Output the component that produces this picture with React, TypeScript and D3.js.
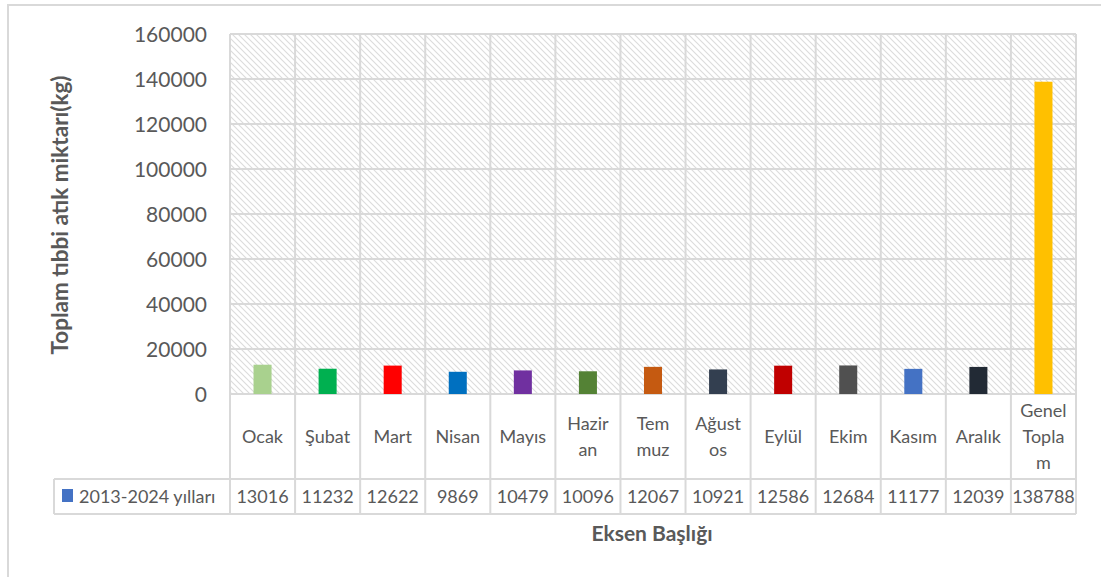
import React from "react";
import * as d3 from "d3";

const categories = ["Ocak", "Şubat", "Mart", "Nisan", "Mayıs", "Haziran", "Temmuz", "Ağustos", "Eylül", "Ekim", "Kasım", "Aralık", "Genel Toplam"];
const categoryLines = [["Ocak"], ["Şubat"], ["Mart"], ["Nisan"], ["Mayıs"], ["Hazir", "an"], ["Tem", "muz"], ["Ağust", "os"], ["Eylül"], ["Ekim"], ["Kasım"], ["Aralık"], ["Genel", "Topla", "m"]];
const values = [13016, 11232, 12622, 9869, 10479, 10096, 12067, 10921, 12586, 12684, 11177, 12039, 138788];
const barColors = ["#A9D18E", "#00B050", "#FF0000", "#0070C0", "#7030A0", "#548235", "#C55A11", "#333F50", "#C00000", "#505050", "#4472C4", "#222A35", "#FFC000"];
const yTicks = [0, 20000, 40000, 60000, 80000, 100000, 120000, 140000, 160000];
const seriesName = "2013-2024 yılları";
const yTitle = "Toplam tıbbi atık miktarı(kg)";
const xTitle = "Eksen Başlığı";

export default function App() {
  const W = 1101, H = 577;
  const left = 230, right = 1076, top = 34, bottom = 394;
  const catBottom = 479, dataBottom = 514, legendLeft = 54;
  const x = d3.scaleBand<string>().domain(categories).range([left, right]).paddingInner(0);
  const y = d3.scaleLinear().domain([0, 160000]).range([bottom, top]);
  const bw = x.bandwidth() * 0.277;
  const grid = "#D9D9D9";
  const txt = "#595959";
  const font = "Lato, 'Open Sans', sans-serif";
  const boundaries = categories.map((c) => x(c)!).concat([right]);

  return (
    <svg width={W} height={H} style={{ position: "absolute", left: 0, top: 0 }} fontFamily={font}>
      <defs>
        <pattern id="hatch" width="6" height="6" patternUnits="userSpaceOnUse">
          <rect width="6" height="6" fill="#fff" />
          <path d="M0,0 L6,6 M-1,5 L1,7 M5,-1 L7,1" stroke="#DCDCDC" strokeWidth="1.1" />
        </pattern>
      </defs>
      <rect x={0} y={0} width={W} height={H} fill="#fff" />
      <rect x={8} y={5} width={W} height={H} fill="#fff" stroke={grid} strokeWidth={2} />

      {/* plot area hatch */}
      <rect x={left} y={top} width={right - left} height={bottom - top} fill="url(#hatch)" />

      {/* horizontal gridlines */}
      {yTicks.map((t) => (
        <line key={t} x1={left} x2={right} y1={y(t)} y2={y(t)} stroke={grid} strokeWidth={2} />
      ))}
      {/* vertical lines through plot and table */}
      {boundaries.map((bx, i) => (
        <line key={i} x1={bx} x2={bx} y1={top} y2={dataBottom} stroke={grid} strokeWidth={2} />
      ))}
      {/* table horizontal lines */}
      <line x1={legendLeft} x2={right} y1={catBottom} y2={catBottom} stroke={grid} strokeWidth={2} />
      <line x1={legendLeft} x2={right} y1={dataBottom} y2={dataBottom} stroke={grid} strokeWidth={2} />
      <line x1={legendLeft} x2={legendLeft} y1={catBottom} y2={dataBottom} stroke={grid} strokeWidth={2} />

      {/* bars */}
      {categories.map((c, i) => (
        <rect key={c} x={x(c)! + x.bandwidth() / 2 - bw / 2} y={y(values[i])} width={bw} height={y(0) - y(values[i])} fill={barColors[i]} />
      ))}

      {/* y tick labels */}
      {yTicks.map((t) => (
        <text key={t} x={207} y={y(t)} dy="0.36em" textAnchor="end" fontSize={21} fill={txt}>{t}</text>
      ))}

      {/* category labels */}
      {categoryLines.map((lines, i) => {
        const cx = x(categories[i])! + x.bandwidth() / 2;
        const mid = (bottom + catBottom) / 2;
        const lh = 26;
        const start = mid - ((lines.length - 1) * lh) / 2;
        return lines.map((ln, j) => (
          <text key={i + "-" + j} x={cx} y={start + j * lh} dy="0.36em" textAnchor="middle" fontSize={18} fill={txt}>{ln}</text>
        ));
      })}

      {/* data row */}
      {values.map((v, i) => (
        <text key={i} x={x(categories[i])! + x.bandwidth() / 2} y={(catBottom + dataBottom) / 2} dy="0.36em" textAnchor="middle" fontSize={18} fill={txt}>{v}</text>
      ))}
      <rect x={62} y={489} width={11} height={13} fill="#4472C4" />
      <text x={79} y={(catBottom + dataBottom) / 2} dy="0.36em" fontSize={18} fill={txt}>{seriesName}</text>

      {/* axis titles */}
      <text transform={`translate(68,215) rotate(-90)`} textAnchor="middle" fontSize={22.5} fontWeight="bold" fill={txt}>{yTitle}</text>
      <text x={652} y={541} textAnchor="middle" fontSize={21} fontWeight="bold" fill={txt}>{xTitle}</text>
    </svg>
  );
}
